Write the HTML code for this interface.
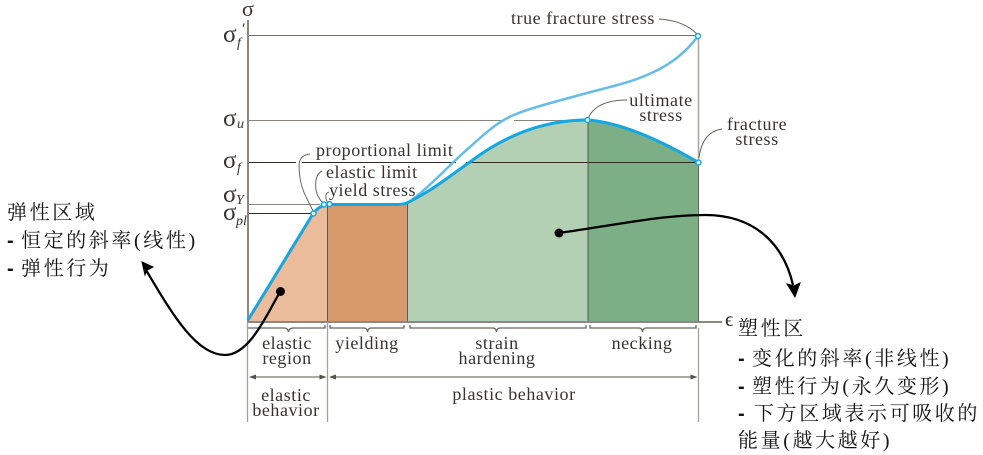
<!DOCTYPE html>
<html><head><meta charset="utf-8">
<style>
html,body{margin:0;padding:0;background:#fff;width:983px;height:455px;overflow:hidden}
svg{display:block}
.l{font-family:"Liberation Serif",serif;font-size:18px;fill:#38332e;letter-spacing:.55px}
.s{font-family:"Liberation Serif","DejaVu Serif",serif;font-size:25px;fill:#38332e}
.i{font-family:"Liberation Serif",serif;font-size:14px;font-style:italic;fill:#38332e}
.c{font-family:"Liberation Serif","Noto Serif CJK SC",serif;font-size:20px;fill:#141414;letter-spacing:2.6px}
.d{font-family:"Liberation Sans",sans-serif;font-size:20px;font-weight:bold;fill:#141414}
</style></head><body>
<svg width="983" height="455" viewBox="0 0 983 455" xmlns="http://www.w3.org/2000/svg">
<!-- fills -->
<path d="M248 321L313.500 213Q319 206 327.500 204.500V321Z" fill="#ebbc9b"/>
<rect x="327.500" y="204.500" width="80" height="116.500" fill="#d69a6b"/>
<path d="M407 203C415 199 422 195 430 190C444 181 457 171 470 162C508 133 548 120 588 120V321H407Z" fill="#b4d0b4"/>
<path d="M588 120C620 122 660 140 698.500 162.500V321H588Z" fill="#7caf85"/>
<!-- guide lines -->
<g fill="none" stroke-width="1">
<path d="M249 35.500H696" stroke="#77716b"/>
<path d="M249 120.500H503M514 120.500H588" stroke="#8a847e"/>
<path d="M249 162.500H296M302 162.500H456M466 162.500H698" stroke="#2f2a26"/>
<path d="M249 204.500H320" stroke="#8a847e"/>
<path d="M249 213.500H312" stroke="#2f2a26"/>
<path d="M327.500 205V321M407.500 204V321M588 120V321" stroke="#5d5850"/>
<path d="M698.500 36V160" stroke="#a9a6a2" stroke-width="1.500"/>
<path d="M698.500 162V321" stroke="#5d6a58"/>
</g>
<!-- axes -->
<path d="M248 20V322" stroke="#8c8781" stroke-width="2" fill="none"/>
<path d="M247 322H722" stroke="#8c8781" stroke-width="2" fill="none"/>
<path d="M247.500 322V422M327.500 322V422M698.500 328V422" stroke="#a5a19c" stroke-width="1.300" fill="none"/>
<!-- braces -->
<g fill="none" stroke="#6b665f" stroke-width="1.300">
<path d="M248 328H284Q288 328 288.500 332Q289 328 293 328H325V325"/>
<path d="M330 325V328H364Q367 328 367.500 332Q368 328 371 328H404V325"/>
<path d="M410 325V328H493Q496 328 496.500 332Q497 328 500 328H586V325"/>
<path d="M590 325V328H639Q642 328 642.500 332Q643 328 646 328H696V325"/>
</g>
<!-- arrows -->
<g stroke="#55504a" stroke-width="1" fill="#55504a">
<path d="M250 377H324M332 377H696" fill="none"/>
<path d="M249 377l7-2.500v5zM326.500 377l-7-2.500v5zM329 377l7-2.500v5zM697.500 377l-7-2.500v5z" stroke="none"/>
</g>
<!-- curves -->
<path d="M408 203C430 187 452 162 470 147C481 137 492 127 503 120.500C520 110 555 102 587 93C625 83 670 75 698 36" fill="none" stroke="#65bce8" stroke-width="2.500"/>
<path d="M248 320L313.500 213Q319 206 327 204.500H395Q402 204.500 407 203C415 199 422 195 430 190C444 181 457 171 470 162C508 133 548 120 587 120C620 122 660 140 698.500 162.500" fill="none" stroke="#14a7e2" stroke-width="3"/>
<!-- leader lines -->
<g fill="none" stroke="#6b6660" stroke-width="1">
<path d="M310 154C298 156 298 162 300 178C302 192 309 202 313 211"/>
<path d="M322 171C316 174 315 182 316 190C317 196 320 200 323 203"/>
<path d="M329 192C325 193 325 199 328 203"/>
<path d="M659 19C676 20 688 25 697 34"/>
<path d="M627 100C606 100 593 106 588 119"/>
<path d="M722 129C708 131 701 142 699 158"/>
</g>
<g fill="#fff" stroke="#14a7e2" stroke-width="1.500">
<circle cx="313.500" cy="213.500" r="2.500"/><circle cx="324" cy="204.500" r="2.500"/><circle cx="329.500" cy="204" r="2.500"/>
<circle cx="587.500" cy="120" r="2.500"/><circle cx="698.500" cy="162.500" r="2.500"/><circle cx="698" cy="36" r="2.500"/>
</g>
<!-- black annotations -->
<circle cx="280.500" cy="291.500" r="4.500" fill="#000"/>
<path d="M280 292C268 312 250 355 225 355C195 355 170 310 146 270" fill="none" stroke="#000" stroke-width="2.300"/>
<path d="M142 262L153 267L147 270L145 275Z" fill="#000" stroke="#000"/>
<circle cx="559" cy="233" r="4.500" fill="#000"/>
<path d="M559 233C610 226 660 215 705 215C760 215 785 250 793 285" fill="none" stroke="#000" stroke-width="2.300"/>
<path d="M795 297L787 284L794 286L800 283Z" fill="#000" stroke="#000"/>
<!-- graph labels -->
<text class="s" x="242" y="16" style="font-size:22px">σ</text>
<text class="s" x="223" y="42">σ</text><text class="i" x="237" y="47">f</text><text class="i" x="241" y="34" style="font-size:16px">′</text>
<text class="s" x="223" y="126">σ</text><text class="i" x="237" y="128">u</text>
<text class="s" x="223" y="168">σ</text><text class="i" x="237" y="172">f</text>
<text class="s" x="223" y="202">σ</text><text class="i" x="236" y="204">Y</text>
<text class="s" x="223" y="220">σ</text><text class="i" x="236" y="225">pl</text>
<text class="l" x="511" y="24">true fracture stress</text>
<text class="l" x="316" y="156">proportional limit</text>
<text class="l" x="326" y="178">elastic limit</text>
<text class="l" x="329" y="196">yield stress</text>
<text class="l" x="661" y="106" text-anchor="middle">ultimate</text>
<text class="l" x="661" y="121" text-anchor="middle">stress</text>
<text class="l" x="757" y="130" text-anchor="middle">fracture</text>
<text class="l" x="757" y="145" text-anchor="middle">stress</text>
<text class="l" x="287" y="349" text-anchor="middle">elastic</text>
<text class="l" x="287" y="364" text-anchor="middle">region</text>
<text class="l" x="367" y="349" text-anchor="middle">yielding</text>
<text class="l" x="497" y="349" text-anchor="middle">strain</text>
<text class="l" x="497" y="364" text-anchor="middle">hardening</text>
<text class="l" x="642" y="349" text-anchor="middle">necking</text>
<text class="l" x="286" y="401" text-anchor="middle">elastic</text>
<text class="l" x="286" y="416" text-anchor="middle">behavior</text>
<text class="l" x="514" y="400" text-anchor="middle">plastic behavior</text>
<text class="s" x="725" y="326" style="font-size:21px">ϵ</text>
<!-- Chinese notes -->
<text class="c" x="7" y="219">弹性区域</text>
<text class="d" x="7" y="247">-</text><text class="c" x="21" y="247">恒定的斜率(线性)</text>
<text class="d" x="7" y="275">-</text><text class="c" x="21" y="275">弹性行为</text>
<text class="c" x="738" y="335">塑性区</text>
<text class="d" x="738" y="365">-</text><text class="c" x="752" y="365">变化的斜率(非线性)</text>
<text class="d" x="738" y="393">-</text><text class="c" x="752" y="393">塑性行为(永久变形)</text>
<text class="d" x="738" y="420">-</text><text class="c" x="754" y="420">下方区域表示可吸收的</text>
<text class="c" x="738" y="447">能量(越大越好)</text>
</svg>
</body></html>
